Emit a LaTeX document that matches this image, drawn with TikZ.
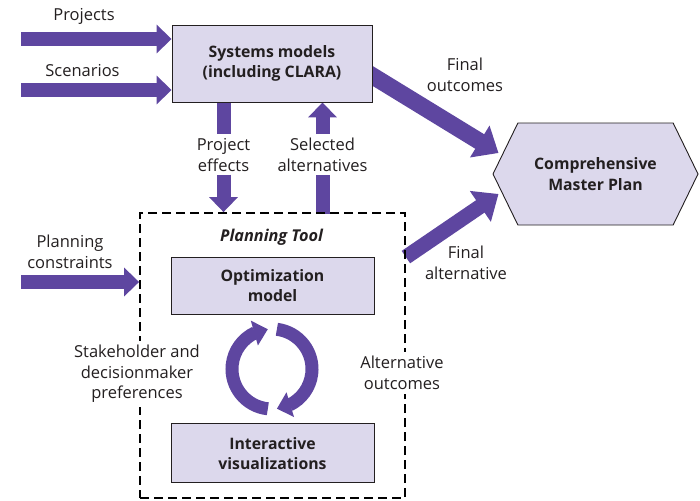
\documentclass[tikz,border=0pt]{standalone}
\usepackage{fontspec}
\setmainfont{Open Sans}
\usepackage{xcolor}
\usepackage{tikz}
\usetikzlibrary{arrows.meta,bending,positioning,shapes.symbols,backgrounds}
\definecolor{arrowpurple}{RGB}{94,70,160}
\definecolor{boxfill}{RGB}{220,216,236}
\definecolor{inkgray}{RGB}{35,31,32}

\begin{document}
\begin{tikzpicture}[x=1pt, y=1pt, text=inkgray, font=\fontsize{16.5}{20.5}\selectfont,
        model/.style={draw=inkgray, line width=0.9pt, fill=boxfill, align=center,
                font=\fontsize{15.8}{20.5}\selectfont\bfseries},
        plan/.style={model, signal, signal to=east and west, signal pointer angle=128,
                minimum width=205pt, minimum height=102pt},
        toolbox/.style={draw=black, line width=1.8pt, dash pattern=on 9pt off 5pt,
                minimum width=265pt, minimum height=285pt},
        lbl/.style={align=center, inner sep=2pt},
        shaft/.style={draw=arrowpurple, line width=14pt},
        fat/.style={shaft, -{Triangle[length=15pt,width=28pt]}},
        fatter/.style={draw=arrowpurple, line width=17pt, -{Triangle[length=22pt,width=36pt]}},
        cyclearrow/.style={draw=arrowpurple, line width=13pt, -{Triangle[length=14pt,width=25pt]}}]
        \useasboundingbox (0,0) rectangle (700,-500);

        \node[model, minimum width=200pt, minimum height=77pt] (sys) at (272,-63.5) {Systems models\\(including CLARA)};
        \node[plan] (plan) at (595.5,-174) {Comprehensive\\Master Plan};
        \node[toolbox] (tool) at (272.5,-355.5) {};
        \node[font=\fontsize{16.3}{20}\selectfont\bfseries\itshape] (title) at (271.5,-237) {Planning Tool};
        \node[model, minimum width=203pt, minimum height=57pt] (opt) at (272.5,-285.5) {Optimization\\model};
        \node[model, minimum width=203pt, minimum height=59pt] (vis) [below=109pt of opt] {Interactive\\visualizations};

        \node[lbl] (projects) at (84,-16) {Projects};
        \node[lbl] (scenarios) at (82.5,-71) {Scenarios};
        \node[lbl] (effects) at (223.5,-155) {Project\\effects};
        \node[lbl] (selected) at (322.5,-155) {Selected\\alternatives};
        \node[lbl] (outcomes) at (465,-75) {Final\\outcomes};
        \node[lbl] (finalalt) at (466,-263) {Final\\alternative};
        \node[lbl] (constraints) at (70,-252) {Planning\\constraints};
        \node[lbl, fill=white, inner sep=4pt] (prefs) at (137,-374) {Stakeholder and\\decisionmaker\\preferences};
        \node[lbl, fill=white, inner sep=4pt] (altout) at (402,-373) {Alternative\\outcomes};

        \coordinate (projsrc) at (21,-39);
        \coordinate (scensrc) at (21,-90);
        \coordinate (constrsrc) at (21,-282);
        \coordinate (cyc) at (272,-369);

        \begin{scope}[on background layer]
        \draw[fat] (projsrc) -- (projsrc -| sys.west);
        \draw[fat] (scensrc) -- (scensrc -| sys.west);
        \draw[fat] (constrsrc) -- (constrsrc -| tool.west);
        \draw[shaft] (effects.north |- sys.south) -- ([yshift=2pt]effects.north);
        \draw[fat] ([yshift=-1pt]effects.south) -- (effects.south |- tool.north);
        \draw[shaft] ([yshift=-2pt]selected.south |- tool.north) -- ([yshift=-1pt]selected.south);
        \draw[fat] ([yshift=2pt]selected.north) -- (selected.north |- sys.south);
        \draw[fatter] ([xshift=-12pt,yshift=-5pt]sys.east) -- ([xshift=6pt,yshift=21pt]plan.west);
        \draw[fatter, line width=15pt] ([yshift=-45pt]tool.north east) -- ([xshift=6pt,yshift=-20pt]plan.west);
        \end{scope}

        \draw[cyclearrow] (cyc) ++(264:40pt) arc[start angle=264, end angle=96, radius=40pt];
        \draw[cyclearrow] (cyc) ++(83:40pt) arc[start angle=83, end angle=-83, radius=40pt];
\end{tikzpicture}
\end{document}
